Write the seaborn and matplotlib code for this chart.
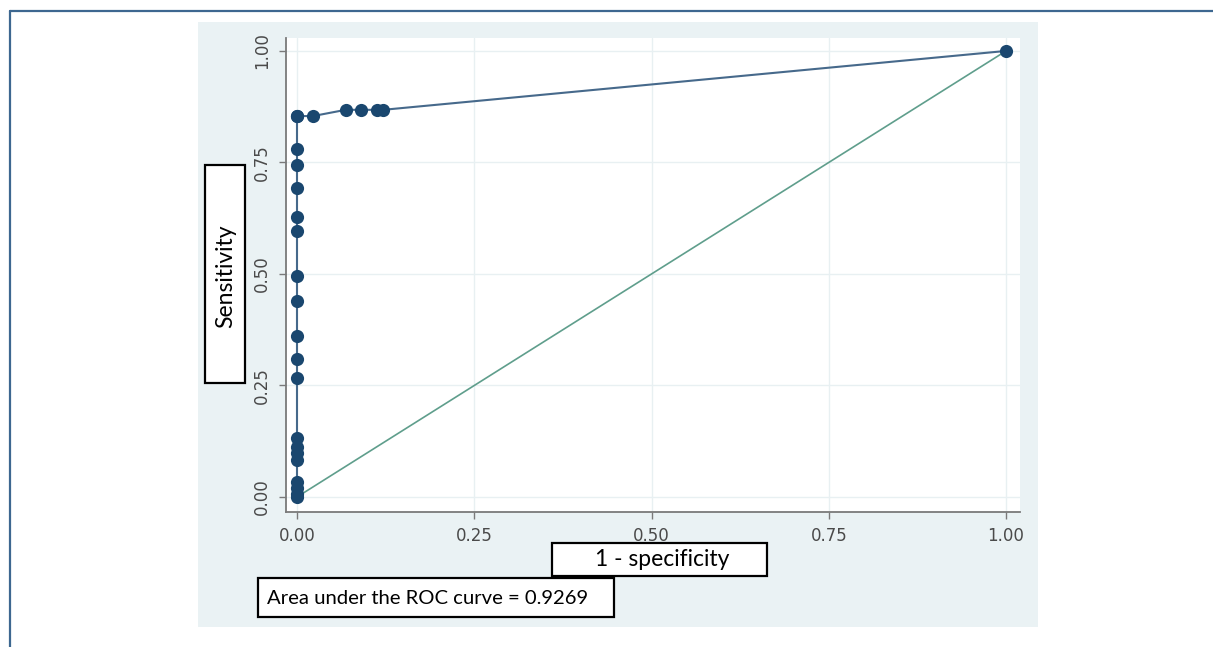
import matplotlib
matplotlib.use("Agg")
import matplotlib.pyplot as plt
from matplotlib.patches import Rectangle
from matplotlib.lines import Line2D
import seaborn as sns
import pandas as pd

# ROC points (1 - specificity, sensitivity)
fpr = [0, 0, 0, 0, 0, 0, 0, 0, 0, 0, 0, 0, 0, 0, 0, 0, 0, 0, 0, 0,
       0.0226, 0.0687, 0.090, 0.1124, 0.1217, 1.0]
tpr = [0, 0.007, 0.020, 0.034, 0.083, 0.099, 0.112, 0.132, 0.267, 0.309,
       0.361, 0.439, 0.496, 0.596, 0.628, 0.693, 0.744, 0.780, 0.854, 0.854,
       0.854, 0.868, 0.868, 0.868, 0.868, 1.0]
ref_x = [0, 1]
ref_y = [0, 1]
ticks = [0, 0.25, 0.5, 0.75, 1.0]
tick_labels = ["0.00", "0.25", "0.50", "0.75", "1.00"]
auc_text = "Area under the ROC curve = 0.9269"

sns.set_theme(style="white")
plt.rcParams["font.family"] = ["DejaVu Sans"]

W, H = 1213, 647
navy = "#1a476f"
panel = "#eaf2f4"
grid = "#e8f0f2"
frame = "#3d6790"

fig = plt.figure(figsize=(W / 100, H / 100), dpi=100)
fig.patch.set_facecolor("white")

# light blue graph region + page frame lines
fig.add_artist(Rectangle((198 / W, 1 - 627 / H), 840 / W, 605 / H,
                         transform=fig.transFigure, facecolor=panel, edgecolor="none", zorder=0))
fig.add_artist(Line2D([10 / W, 1], [1 - 11 / H, 1 - 11 / H], transform=fig.transFigure,
                      color=frame, lw=1.6))
fig.add_artist(Line2D([10 / W, 10 / W], [0, 1 - 11 / H], transform=fig.transFigure,
                      color=frame, lw=1.6))

ax = fig.add_axes([286 / W, 1 - 512 / H, 734 / W, 474 / H])
ax.set_facecolor("white")

df = pd.DataFrame({"fpr": fpr, "tpr": tpr})
ref = pd.DataFrame({"x": ref_x, "y": ref_y})

sns.lineplot(data=ref, x="x", y="y", ax=ax, color="#5f9e8c", lw=1.2, zorder=2)
sns.lineplot(data=df, x="fpr", y="tpr", ax=ax, sort=False, estimator=None,
             color="#46698b", lw=1.5, zorder=3)
sns.scatterplot(data=df, x="fpr", y="tpr", ax=ax, color=navy, s=90,
                edgecolor=navy, linewidth=0, zorder=4)

ax.set_xlim(-0.0155, 1.0197)
ax.set_ylim(-0.0336, 1.029)
ax.set_xticks(ticks)
ax.set_xticklabels(tick_labels)
ax.set_yticks(ticks)
ax.set_yticklabels(tick_labels, rotation=90, va="center")
ax.grid(True, color=grid, lw=1.0)
ax.set_axisbelow(True)
ax.set_xlabel("")
ax.set_ylabel("")

for s in ["top", "right"]:
    ax.spines[s].set_visible(False)
for s in ["left", "bottom"]:
    ax.spines[s].set_color("#7a7a7a")
    ax.spines[s].set_linewidth(1.3)
ax.tick_params(axis="both", length=5, width=1, color="#7a7a7a", labelcolor="#4a4a4a",
               labelsize=12, pad=6, direction="out", left=True, bottom=True)

# boxed axis titles and AUC note
box_font = ["Lato", "DejaVu Sans"]


def box(x0, y0, x1, y1):
    fig.add_artist(Rectangle((x0 / W, 1 - y1 / H), (x1 - x0) / W, (y1 - y0) / H,
                             transform=fig.transFigure, facecolor="white",
                             edgecolor="black", lw=1.6, zorder=5))


box(205, 165, 245, 383)
fig.text(226 / W, 1 - 276 / H, "Sensitivity", rotation=90, ha="center", va="center",
         fontsize=16.5, family=box_font, color="black", zorder=6)

box(552, 543, 767, 576)
fig.text(662 / W, 1 - 560 / H, "1 - specificity", ha="center", va="center",
         fontsize=16.5, family=box_font, color="black", zorder=6)

box(258, 578, 614, 617)
fig.text(267 / W, 1 - 598 / H, auc_text, ha="left", va="center",
         fontsize=14.6, family=box_font, color="black", zorder=6)

fig.savefig("out.png", dpi=100)
